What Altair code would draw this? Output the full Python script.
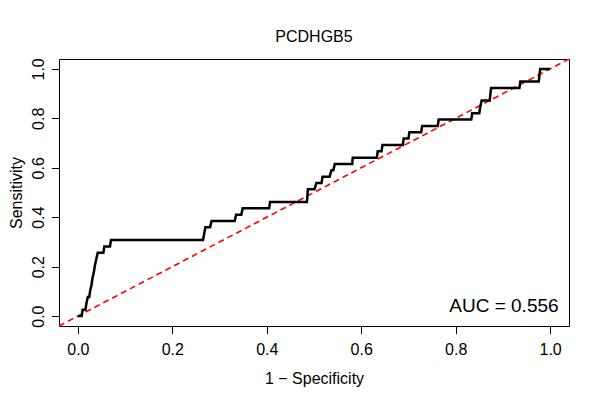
import altair as alt
import pandas as pd

FONT = "Liberation Sans"

# ROC curve vertices
fpr = [0.0, 0.008, 0.010, 0.016, 0.018, 0.021, 0.024, 0.026, 0.029, 0.031,
       0.034, 0.036, 0.039, 0.042, 0.054, 0.056, 0.068, 0.070, 0.265, 0.270,
       0.280, 0.283, 0.332, 0.335, 0.346, 0.349, 0.405, 0.407, 0.485, 0.487,
       0.501, 0.505, 0.516, 0.518, 0.533, 0.537, 0.541, 0.544, 0.581, 0.582,
       0.633, 0.635, 0.643, 0.645, 0.688, 0.690, 0.700, 0.702, 0.727, 0.729,
       0.762, 0.764, 0.833, 0.835, 0.850, 0.852, 0.855, 0.872, 0.875, 0.935,
       0.937, 0.976, 0.979, 1.0]
tpr = [0.0, 0.0, 0.026, 0.026, 0.051, 0.077, 0.077, 0.103, 0.128, 0.154,
       0.179, 0.205, 0.231, 0.256, 0.256, 0.282, 0.282, 0.308, 0.308, 0.359,
       0.359, 0.385, 0.385, 0.410, 0.410, 0.436, 0.436, 0.462, 0.462, 0.513,
       0.513, 0.538, 0.538, 0.564, 0.564, 0.590, 0.590, 0.615, 0.615, 0.641,
       0.641, 0.667, 0.667, 0.692, 0.692, 0.718, 0.718, 0.744, 0.744, 0.769,
       0.769, 0.795, 0.795, 0.821, 0.821, 0.846, 0.872, 0.872, 0.923, 0.923,
       0.949, 0.949, 1.0, 1.0]

diag_x = [-0.04, 1.04]
diag_y = [-0.04, 1.04]
ticks = [0.0, 0.2, 0.4, 0.6, 0.8, 1.0]
axis_domain = [-0.04, 1.04]

chart_title = "PCDHGB5"
x_title = "1 \u2212 Specificity"
y_title = "Sensitivity"
auc_text = ["AUC = 0.556"]
auc_x = [1.018]
auc_y = [0.017]

roc = pd.DataFrame({"fpr": fpr, "tpr": tpr, "order": list(range(len(fpr)))})
diag = pd.DataFrame({"x": diag_x, "y": diag_y})
auc = pd.DataFrame({"x": auc_x, "y": auc_y, "label": auc_text})

xs = alt.Scale(domain=axis_domain, nice=False, zero=False)
ys = alt.Scale(domain=axis_domain, nice=False, zero=False)

x_axis = alt.Axis(values=ticks, format=".1f", title=x_title, grid=False, domain=False,
                  tickColor="black", tickSize=7.6, tickWidth=1,
                  labelFont=FONT, labelFontSize=16, labelColor="black",
                  labelPadding=7.5, labelFlush=False, labelOverlap=False,
                  titleFont=FONT, titleFontSize=16, titleFontWeight="normal",
                  titleColor="black", titleBaseline="alphabetic", titleY=57.6)
y_axis = alt.Axis(values=ticks, format=".1f", title=y_title, grid=False, domain=False,
                  tickColor="black", tickSize=7.6, tickWidth=1,
                  labelFont=FONT, labelFontSize=16, labelColor="black",
                  labelAngle=270, labelAlign="center", labelBaseline="alphabetic",
                  labelPadding=8.1, labelFlush=False, labelOverlap=False,
                  titleFont=FONT, titleFontSize=16, titleFontWeight="normal",
                  titleColor="black", titleAngle=270, titleAlign="center",
                  titleBaseline="alphabetic", titleX=-38, titleY=133.5)

curve = alt.Chart(roc).mark_line(color="black", strokeWidth=2.5, strokeJoin="miter",
                                 interpolate="linear").encode(
    x=alt.X("fpr:Q", scale=xs, axis=x_axis),
    y=alt.Y("tpr:Q", scale=ys, axis=y_axis),
    order="order:Q",
)

ref = alt.Chart(diag).mark_line(color="#ff0000", strokeWidth=1.6, strokeDash=[6, 4],
                                clip=True).encode(
    x=alt.X("x:Q", scale=xs),
    y=alt.Y("y:Q", scale=ys),
)

label = alt.Chart(auc).mark_text(font=FONT, fontSize=19, color="black", align="right",
                                 baseline="alphabetic").encode(
    x=alt.X("x:Q", scale=xs),
    y=alt.Y("y:Q", scale=ys),
    text="label:N",
)

chart = alt.layer(ref, curve, label).properties(
    width=510,
    height=267,
    title=alt.TitleParams(chart_title, font=FONT, fontSize=16, fontWeight="normal",
                          color="black", frame="group", anchor="middle",
                          baseline="alphabetic", offset=0),
    autosize=alt.AutoSizeParams(type="none"),
    padding={"left": 51, "top": 51, "right": 20, "bottom": 70},
    background="white",
).configure_view(stroke="black", strokeWidth=1)

chart.save("out.html", embed_options={"renderer": "svg", "actions": False})
